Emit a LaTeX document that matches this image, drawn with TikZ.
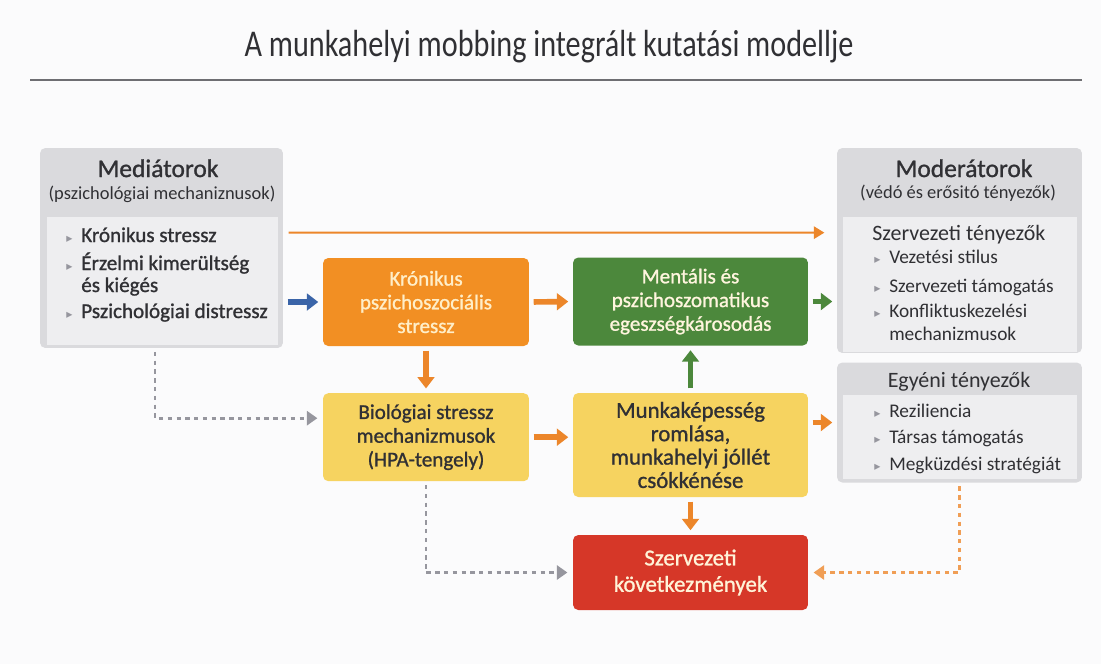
\documentclass[tikz,border=0pt]{standalone}
\usepackage{fontspec}
\setmainfont{Carlito}
\newfontfamily\titlefont[FakeStretch=0.8]{Carlito}
\newfontfamily\medfont[FakeBold=1.1]{Carlito}
\newfontfamily\symfont{DejaVu Sans}
\usepackage{tikz}
\usetikzlibrary{positioning, arrows.meta}

\definecolor{hatter}{RGB}{251,251,252}
\definecolor{narancs}{RGB}{242,143,35}
\definecolor{zold}{RGB}{76,136,60}
\definecolor{sarga}{RGB}{246,211,96}
\definecolor{piros}{RGB}{214,55,40}
\definecolor{kek}{RGB}{58,100,168}
\definecolor{szurke}{RGB}{218,218,221}
\definecolor{vszurke}{RGB}{238,238,240}
\definecolor{szoveg}{RGB}{48,48,52}
\definecolor{krem}{RGB}{255,238,200}
\definecolor{pont}{RGB}{150,150,158}
\definecolor{nyiln}{RGB}{236,134,42}
\definecolor{vonal}{RGB}{110,110,114}

\tikzset{doboz/.style={rounded corners=3pt, minimum width=4.12cm, minimum height=1.76cm, align=center, inner sep=2pt, font=\medfont\fontsize{12}{13.5}\selectfont}}
\tikzset{keret/.style={fill=szurke, rounded corners=3pt, inner sep=0pt}}
\tikzset{panel/.style={fill=vszurke, inner sep=0pt}}
\tikzset{fejlec/.style={inner sep=0pt, text=szoveg, font=\medfont\fontsize{14.5}{16}\selectfont}}
\tikzset{alcim/.style={inner sep=0pt, text=szoveg, font=\fontsize{10.5}{12}\selectfont}}
\tikzset{elem/.style={inner sep=0pt, text=szoveg, font=\fontsize{11}{13}\selectfont}}
\tikzset{arco/.style={line width=3.2pt, -{Triangle[length=6.5pt,width=9.5pt]}, shorten <=2.5pt, shorten >=2.5pt}}
\tikzset{pontos/.style={line width=1.6pt, dash pattern=on 2.5pt off 2.5pt, -{Triangle[length=6pt,width=8pt]}, shorten <=2pt, shorten >=3pt}}

% kis haromszog a felsorolashoz
\newcommand{\tri}{\makebox[8.5pt][l]{\symfont\fontsize{7}{7}\selectfont\color{pont}▸}}

\begin{document}
\begin{tikzpicture}[x=0.02cm, y=-0.02cm]
  \fill[hatter] (0,0) rectangle (1101,664);
  \useasboundingbox (0,0) rectangle (1101,664);

  % cim
  \node[text=szoveg, font=\titlefont\fontsize{21.5}{24}\selectfont] (cim) at (549,47) {A munkahelyi mobbing integrált kutatási modellje};
  \draw[line width=1.2pt, vonal] (30,80) -- (1082,80);

  % mediatorok
  \node[keret, minimum width=4.86cm, minimum height=4cm] (med) at (161.5,248) {};
  \node[panel, minimum width=4.64cm, minimum height=2.56cm] (medp) at (162.5,281) {};
  \node[fejlec, anchor=base] (medc) at (158,177) {Mediátorok};
  \node[alcim, anchor=base] (meda) at (162,199) {(pszichológiai mechaniznusok)};
  \node[elem, font=\medfont\fontsize{12}{13}\selectfont, anchor=base west] (m1) at (66,242) {\tri Krónikus stressz};
  \node[elem, font=\medfont\fontsize{12}{13}\selectfont, anchor=base west] (m2) at (66,270) {\tri Érzelmi kimerültség};
  \node[elem, font=\medfont\fontsize{12}{13}\selectfont, anchor=base west] (m3) at (66,292) {\phantom{\tri}és kiégés};
  \node[elem, font=\medfont\fontsize{12}{13}\selectfont, anchor=base west] (m4) at (66,318) {\tri Pszichológiai distressz};

  % moderatorok
  \node[keret, minimum width=4.9cm, minimum height=4.1cm] (mod) at (959.5,250.5) {};
  \node[panel, minimum width=4.7cm, minimum height=2.7cm] (modp) at (960,284.5) {};
  \node[fejlec, anchor=base] (modc) at (964,177) {Moderátorok};
  \node[alcim, anchor=base] (moda) at (958,198) {(védó és erősitó tényezők)};
  \node[elem, font=\fontsize{12.5}{14}\selectfont, anchor=base west] (s0) at (872,240) {Szervezeti tényezők};
  \node[elem, anchor=base west] (s1) at (874,263) {\tri Vezetési stilus};
  \node[elem, anchor=base west] (s2) at (874,292) {\tri Szervezeti támogatás};
  \node[elem, anchor=base west] (s3) at (874,317) {\tri Konfliktuskezelési};
  \node[elem, anchor=base west] (s4) at (874,340) {\phantom{\tri}mechanizmusok};

  % egyeni tenyezok
  \node[keret, minimum width=4.9cm, minimum height=2.4cm] (egy) at (959.5,422.5) {};
  \node[panel, minimum width=4.7cm, minimum height=1.68cm] (egyp) at (960,437) {};
  \node[elem, font=\fontsize{12.5}{14}\selectfont, anchor=base] (e0) at (959,387) {Egyéni tényezők};
  \node[elem, anchor=base west] (e1) at (874,417) {\tri Reziliencia};
  \node[elem, anchor=base west] (e2) at (874,443) {\tri Társas támogatás};
  \node[elem, anchor=base west] (e3) at (874,470) {\tri Megküzdési stratégiát};

  % kozepso dobozok
  \node[doboz, fill=narancs, text=krem] (kron) at (426,302) {Krónikus\\pszichoszociális\\stressz};
  \node[doboz, fill=zold, text=krem!60!white, minimum width=4.7cm] (ment) at (690.5,301.5) {Mentális és\\pszichoszomatikus\\egeszségkárosodás};
  \node[doboz, fill=sarga, text=szoveg, below=0.93cm of kron] (bio) {Biológiai stressz\\mechanizmusok\\(HPA-tengely)};
  \node[doboz, fill=sarga, text=szoveg, minimum width=4.7cm, minimum height=2.08cm, font=\medfont\fontsize{13}{13.3}\selectfont] (munka) at (690.5,445) {Munkaképesség\\romlása,\\munkahelyi jóllét\\csókkénése};
  \node[doboz, fill=piros, text=krem!70!white, minimum width=4.7cm, minimum height=1.5cm, font=\medfont\fontsize{13}{15}\selectfont] (szerv) at (690.5,572.5) {Szervezeti\\következmények};

  % nyilak
  \draw[line width=1.2pt, nyiln, -{Triangle[length=6pt,width=7pt]}, shorten <=3pt, shorten >=7pt] ([yshift=-1.7cm]med.north east) -- ([yshift=-1.7cm]mod.north west);
  \draw[arco, kek] (med.east |- kron.west) -- (kron.west);
  \draw[arco, nyiln] (kron.east) -- (ment.west);
  \draw[arco, zold] (ment.east) -- (ment.east -| mod.west);
  \draw[arco, nyiln] (kron.south) -- (bio.north);
  \draw[arco, zold] (munka.north) -- (ment.south);
  \draw[arco, nyiln] (bio.east) -- (bio.east -| munka.west);
  \draw[arco, nyiln] (egy.west -| munka.east) -- (egy.west);
  \draw[arco, nyiln] (munka.south) -- (szerv.north);

  % szaggatott kapcsolatok
  \draw[pontos, pont] ([xshift=-0.13cm]med.south) |- ([yshift=0.38cm]bio.west);
  \draw[pontos, pont] (bio.south) |- (szerv.west);
  \draw[pontos, nyiln!80!white] (egy.south) |- (szerv.east);
\end{tikzpicture}
\end{document}
